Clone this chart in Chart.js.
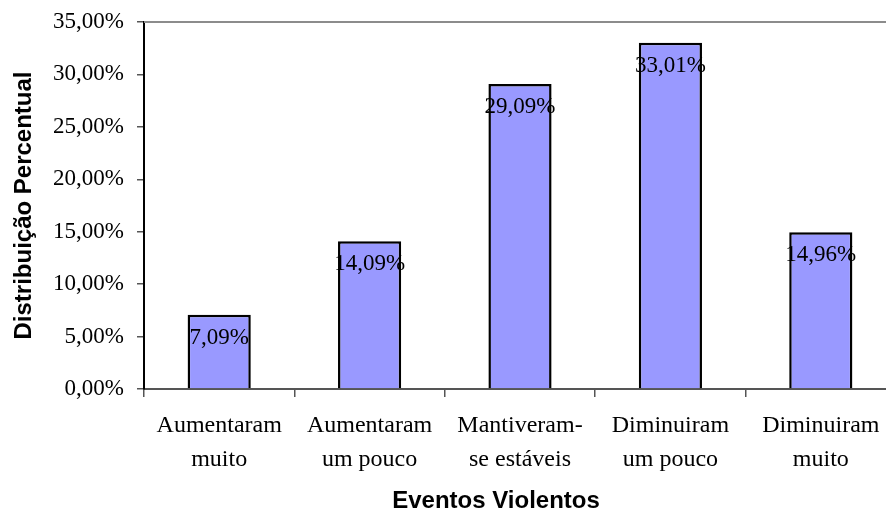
<!DOCTYPE html>
<html>
<head>
<meta charset="utf-8">
<script src="https://cdn.jsdelivr.net/npm/chart.js@4/dist/chart.umd.min.js"></script>
<style>
html,body{margin:0;padding:0;background:#fff;overflow:hidden;}
#wrap{width:886px;height:512px;overflow:hidden;position:relative;}
canvas{display:block;}
</style>
</head>
<body>
<div id="wrap"><canvas id="c" width="900" height="512"></canvas></div>
<script>
const categories = [
  ["Aumentaram","muito"],
  ["Aumentaram","um pouco"],
  ["Mantiveram-","se estáveis"],
  ["Diminuiram","um pouco"],
  ["Diminuiram","muito"]
];
const values = [7.09, 14.09, 29.09, 33.01, 14.96];
const yTicks = [0, 5, 10, 15, 20, 25, 30, 35];
const xTitle = "Eventos Violentos";
const yTitle = "Distribuição Percentual";

function pct(v){ return v.toFixed(2).replace('.', ',') + '%'; }

const overlay = {
  id: 'overlay',
  afterDraw(chart){
    const ctx = chart.ctx, a = chart.chartArea;
    ctx.save();
    ctx.strokeStyle = '#8c8c8c';
    ctx.lineWidth = 2;
    ctx.beginPath();
    ctx.moveTo(a.left, a.top);
    ctx.lineTo(a.right, a.top);
    ctx.stroke();
    const meta = chart.getDatasetMeta(0);
    ctx.fillStyle = '#000';
    ctx.font = '23px "Liberation Serif"';
    ctx.textAlign = 'center';
    ctx.textBaseline = 'middle';
    meta.data.forEach((bar, i) => {
      ctx.fillText(pct(values[i]), bar.x, bar.y + 23);
    });
    ctx.font = 'bold 24px "Liberation Sans"';
    ctx.fillText(xTitle, a.left + 352, 501);
    ctx.translate(24, (a.top + a.bottom) / 2);
    ctx.rotate(-Math.PI / 2);
    ctx.fillText(yTitle, 0, 0);
    ctx.restore();
  }
};

new Chart(document.getElementById('c'), {
  type: 'bar',
  data: {
    labels: categories,
    datasets: [{
      data: values,
      backgroundColor: '#9999FF',
      borderColor: '#000',
      borderWidth: 2.5,
      barPercentage: 0.42,
      categoryPercentage: 1.0
    }]
  },
  options: {
    responsive: false,
    animation: false,
    layout: { padding: { left: 0, top: 22, right: 4, bottom: 0 } },
    plugins: { legend: { display: false }, tooltip: { enabled: false } },
    scales: {
      x: {
        afterFit(s){ s.height = 123; s.paddingLeft = 0; s.paddingRight = 0; },
        border: { color: '#555', width: 2 },
        grid: { offset: true, drawOnChartArea: false, drawTicks: true, tickLength: 8, color: '#555', lineWidth: 1.5 },
        ticks: {
          color: '#000',
          padding: 12,
          maxRotation: 0,
          autoSkip: false,
          font: { family: 'Liberation Serif', size: 24, lineHeight: '34px' }
        }
      },
      y: {
        min: 0, max: 35,
        afterFit(s){ s.width = 144; s.paddingTop = 0; s.paddingBottom = 0; },
        afterBuildTicks(s){ s.ticks = yTicks.map(v => ({ value: v })); },
        border: { color: '#000', width: 2 },
        grid: { drawOnChartArea: false, drawTicks: true, tickLength: 7, color: '#555', lineWidth: 1.5 },
        ticks: {
          color: '#000',
          padding: 13,
          font: { family: 'Liberation Serif', size: 23 },
          callback: v => pct(v)
        }
      }
    }
  },
  plugins: [overlay]
});
</script>
</body>
</html>
